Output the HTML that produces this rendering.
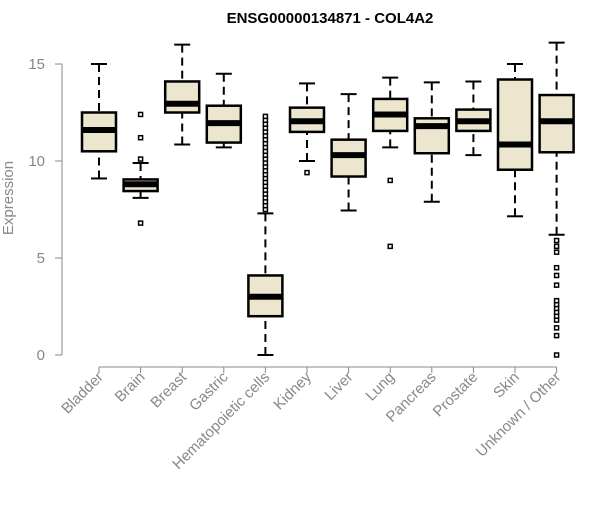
<!DOCTYPE html>
<html><head><meta charset="utf-8"><style>
body{margin:0;background:#fff;font-family:"Liberation Sans",sans-serif}
</style></head><body>
<svg id="c" width="600" height="500" xmlns="http://www.w3.org/2000/svg">
<text x="330" y="23" text-anchor="middle" font-weight="bold" font-size="15">ENSG00000134871 - COL4A2</text>
<text transform="translate(13,198) rotate(-90)" text-anchor="middle" font-size="15" fill="#888">Expression</text>
<g id="g"></g>
</svg>
<script>
const categories=["Bladder","Brain","Breast","Gastric","Hematopoietic cells","Kidney","Liver","Lung","Pancreas","Prostate","Skin","Unknown / Other"];
const whiskerLow=[9.1,8.1,10.85,10.7,0,10.0,7.45,10.7,7.9,10.3,7.15,6.2];
const q1=[10.5,8.45,12.5,10.95,2.0,11.5,9.2,11.55,10.4,11.55,9.55,10.45];
const medians=[11.6,8.8,12.95,11.95,3.0,12.05,10.3,12.4,11.8,12.05,10.85,12.05];
const q3=[12.5,9.05,14.1,12.85,4.1,12.75,11.1,13.2,12.2,12.65,14.2,13.4];
const whiskerHigh=[15,9.9,16,14.5,7.3,14.0,13.45,14.3,14.05,14.1,15.0,16.1];
const outliers=[[],[6.8,10.1,11.2,12.4],[],[],[7.5,7.7,7.9,8.1,8.3,8.5,8.7,8.9,9.1,9.3,9.5,9.7,9.9,10.1,10.3,10.5,10.7,10.9,11.1,11.3,11.5,11.7,11.9,12.1,12.3],[9.4],[],[9.0,5.6],[],[],[],[0,1.0,1.4,1.8,2.0,2.2,2.4,2.6,2.8,3.6,4.1,4.5,5.3,5.6,5.9]];
const yTicks=[0,5,10,15];
const NS="http://www.w3.org/2000/svg",g=document.getElementById("g");
const y=v=>355-19.4*v, x=i=>99+41.6*i;
function el(t,a){const e=document.createElementNS(NS,t);for(const k in a)e.setAttribute(k,a[k]);g.appendChild(e);return e;}
let ax=el("line",{x1:62,x2:62,y1:y(15),y2:y(0),stroke:"#888"});


yTicks.forEach(t=>{el("line",{x1:55,x2:62,y1:y(t),y2:y(t),stroke:"#888"});
let tx=el("text",{x:45,y:y(t)+5,"text-anchor":"end","font-size":15,fill:"#888"});tx.textContent=t;

});
let bx=el("line",{x1:x(0),x2:x(11),y1:367,y2:367,stroke:"#888"});


categories.forEach((c,i)=>{const cx=x(i),w=17;
el("line",{x1:cx,x2:cx,y1:367,y2:373,stroke:"#888"});
let lb=el("text",{transform:`translate(${cx+5},${378}) rotate(-45)`,"text-anchor":"end","font-size":15,fill:"#888"});lb.textContent=c;


el("line",{x1:cx,x2:cx,y1:y(whiskerLow[i]),y2:y(q1[i]),stroke:"#000","stroke-width":2,"stroke-dasharray":"8,5"});
el("line",{x1:cx,x2:cx,y1:y(whiskerHigh[i]),y2:y(q3[i]),stroke:"#000","stroke-width":2,"stroke-dasharray":"8,5"});
el("line",{x1:cx-8,x2:cx+8,y1:y(whiskerLow[i]),y2:y(whiskerLow[i]),stroke:"#000","stroke-width":2});
el("line",{x1:cx-8,x2:cx+8,y1:y(whiskerHigh[i]),y2:y(whiskerHigh[i]),stroke:"#000","stroke-width":2});
let b=el("rect",{x:cx-w,y:y(q3[i]),width:2*w,height:y(q1[i])-y(q3[i]),fill:"#ede6cf",stroke:"#000","stroke-width":2.5});


el("line",{x1:cx-w,x2:cx+w,y1:y(medians[i]),y2:y(medians[i]),stroke:"#000","stroke-width":6});
outliers[i].forEach(o=>{let p=el("rect",{x:cx-2,y:y(o)-2,width:4,height:4,fill:"#fff",stroke:"#000","stroke-width":1.5});

});
});
</script>
</body></html>
